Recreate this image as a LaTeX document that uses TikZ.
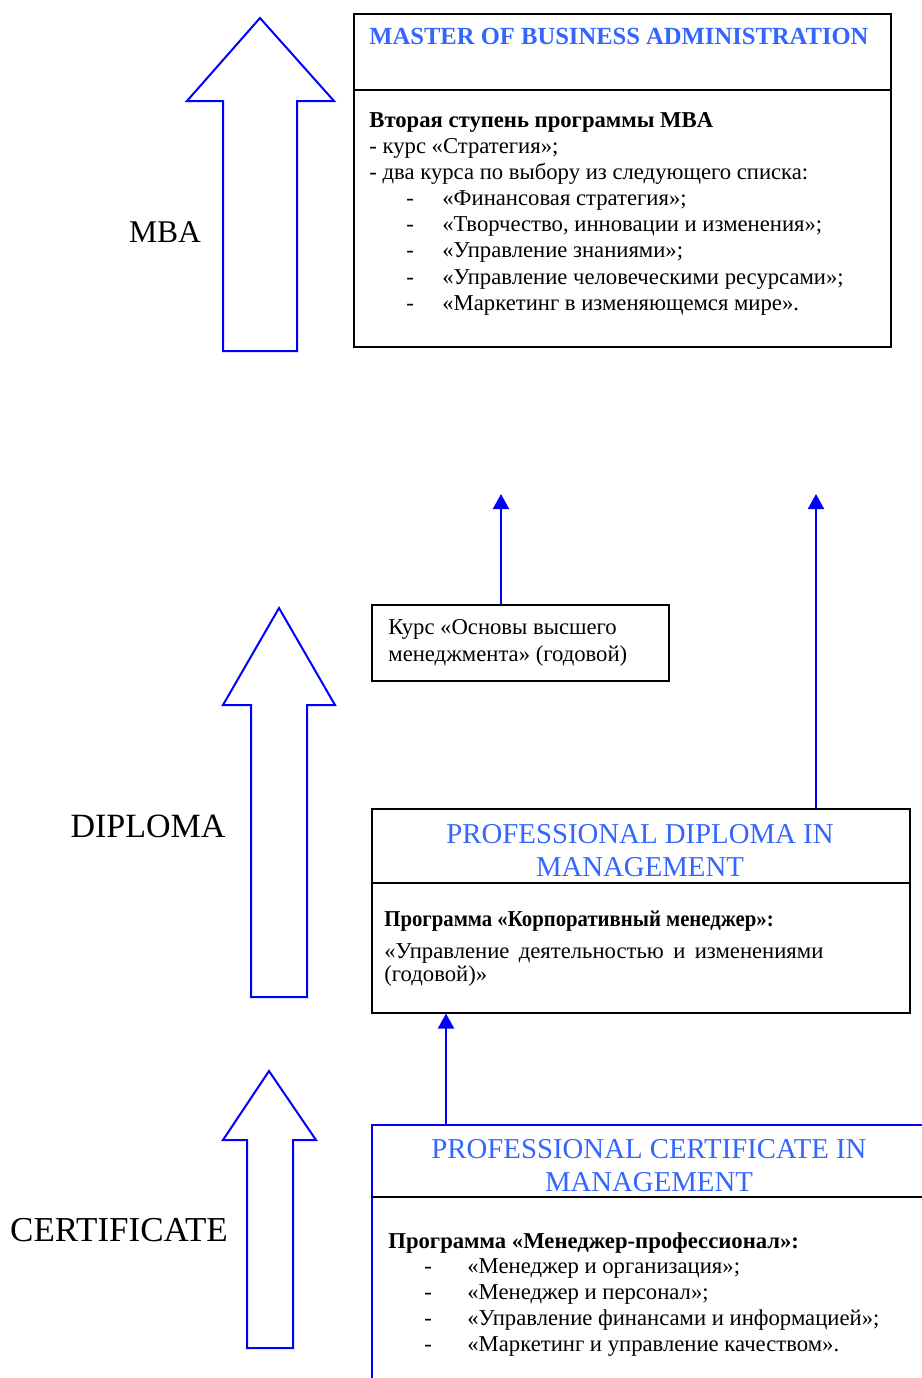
\documentclass[tikz,border=0pt]{standalone}
\usepackage{fontspec}
\setmainfont{Liberation Serif}
\usetikzlibrary{arrows.meta}
\definecolor{titleblue}{RGB}{51,102,255}
\definecolor{arrblue}{RGB}{0,0,255}
\begin{document}
\begin{tikzpicture}[x=0.5pt,y=-0.5pt,
  box/.style={draw=black, line width=0.75pt, anchor=north west, inner sep=0pt},
  txt/.style={anchor=base west, inner sep=0pt, font=\fontsize{11.34}{14}\selectfont},
  btxt/.style={anchor=base west, inner sep=0pt, font=\fontsize{11.34}{14}\selectfont\bfseries},
  ttl/.style={anchor=base, inner sep=0pt, text=titleblue, font=\fontsize{14.4}{16.5}\selectfont},
  lbl/.style={anchor=base, inner sep=0pt, font=\fontsize{17}{20}\selectfont},
  hollow/.style={draw=arrblue, line width=1pt, line join=miter},
  conn/.style={draw=arrblue, line width=1pt, -{Triangle[width=8pt,length=7.5pt]}},
  divider/.style={draw=black, line width=0.75pt}
]
\path[use as bounding box] (0,0) rectangle (922,1378);
\clip (0,0) rectangle (922,1378);

% hollow level arrows
\draw[hollow] (260,18) -- (334,101) -- (297,101) -- (297,351) -- (223,351) -- (223,101) -- (187,101) -- cycle;
\draw[hollow] (279,608) -- (335,705) -- (307,705) -- (307,997) -- (251,997) -- (251,705) -- (223,705) -- cycle;
\draw[hollow] (269,1071) -- (316,1140) -- (293,1140) -- (293,1348) -- (247,1348) -- (247,1140) -- (223,1140) -- cycle;

% level labels
\node[lbl, font=\fontsize{15.8}{20}\selectfont] (lmba) at (165,242) {MBA};
\node[lbl] (ldip) at (148,837) {DIPLOMA};
\node[lbl, font=\fontsize{17.5}{20}\selectfont] (lcert) at (119,1241) {CERTIFICATE};

% MBA box
\node[box, minimum width=268.5pt, minimum height=166.5pt] (mba) at (353,13) {};
\draw[divider] (mba.west |- 0,90) -- (mba.east |- 0,90);
\node[btxt, text=titleblue, font=\fontsize{12.3}{14}\selectfont\bfseries] (mbat) at (369,44) {MASTER OF BUSINESS ADMINISTRATION};
\node[btxt] (m0) at (369,127) {Вторая ступень программы MBA};
\node[txt] (m1) at (369,153) {- курс «Стратегия»;};
\node[txt] (m2) at (369,179) {- два курса по выбору из следующего списка:};
\node[txt] (d1) at (406,205) {-};
\node[txt] (m3) at (442,205) {«Финансовая стратегия»;};
\node[txt] (d2) at (406,231) {-};
\node[txt] (m4) at (442,231) {«Творчество, инновации и изменения»;};
\node[txt] (d3) at (406,257) {-};
\node[txt] (m5) at (442,257) {«Управление знаниями»;};
\node[txt] (d4) at (406,284) {-};
\node[txt] (m6) at (442,284) {«Управление человеческими ресурсами»;};
\node[txt] (d5) at (406,310) {-};
\node[txt] (m7) at (442,310) {«Маркетинг в изменяющемся мире».};

% course box
\node[box, minimum width=148.5pt, minimum height=38pt] (course) at (371,604) {};
\node[txt] (c1) at (388,634) {Курс «Основы высшего};
\node[txt] (c2) at (388,661) {менеджмента» (годовой)};

% diploma box
\node[box, minimum width=269pt, minimum height=102pt] (dip) at (371,808) {};
\draw[divider] (dip.west |- 0,883) -- (dip.east |- 0,883);
\node[ttl] (dipt1) at (640,843) {PROFESSIONAL DIPLOMA IN};
\node[ttl] (dipt2) at (640,876) {MANAGEMENT};
\node[btxt] (p0) at (384,926) {\scalebox{0.915}[1]{Программа «Корпоративный менеджер»:}};
\node[txt] (p1) at (384,958) {\makebox[219.5pt][s]{«Управление деятельностью и изменениями}};
\node[txt] (p2) at (384,981) {(годовой)»};

% certificate box
\node[box, draw=arrblue, minimum width=279.5pt, minimum height=138pt] (cert) at (371,1124) {};
\draw[divider] (cert.west |- 0,1197) -- (cert.east |- 0,1197);
\node[ttl] (certt1) at (649,1158) {PROFESSIONAL CERTIFICATE IN};
\node[ttl] (certt2) at (649,1191) {MANAGEMENT};
\node[btxt] (q0) at (388,1248) {Программа «Менеджер-профессионал»:};
\node[txt] (e1) at (424,1273) {-};
\node[txt] (q1) at (467,1273) {«Менеджер и организация»;};
\node[txt] (e2) at (424,1299) {-};
\node[txt] (q2) at (467,1299) {«Менеджер и персонал»;};
\node[txt] (e3) at (424,1325) {-};
\node[txt] (q3) at (467,1325) {«Управление финансами и информацией»;};
\node[txt] (e4) at (424,1351) {-};
\node[txt] (q4) at (467,1351) {«Маркетинг и управление качеством».};

% connectors
\coordinate (t1) at (501,494);
\coordinate (t2) at (816,494);
\coordinate (t3) at (446,0);
\draw[conn] (t1 |- course.north) -- (t1);
\draw[conn] (t2 |- dip.north) -- (t2);
\draw[conn] (t3 |- cert.north) -- (t3 |- dip.south);
\end{tikzpicture}
\end{document}
